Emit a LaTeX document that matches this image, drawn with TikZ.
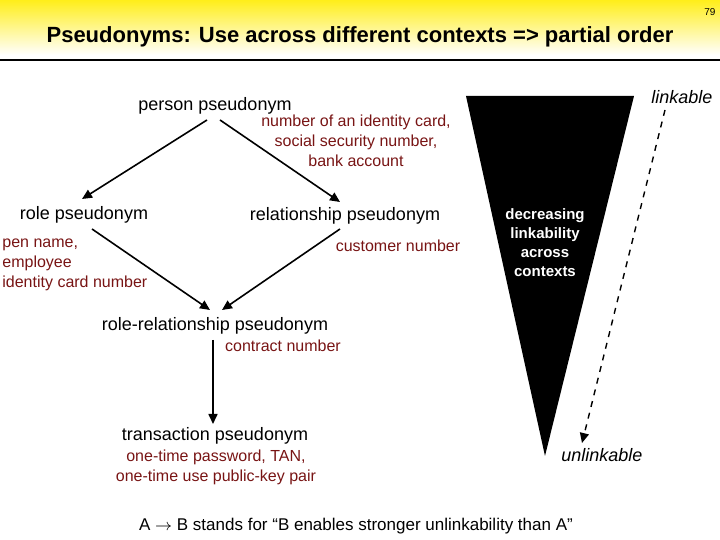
\documentclass[tikz,border=0pt]{standalone}
\usepackage{fontspec}
\setmainfont{Liberation Sans}
\usetikzlibrary{arrows.meta}
\definecolor{lab}{RGB}{120,20,20}
\begin{document}
\begin{tikzpicture}[x=0.5pt,y=-0.5pt,
  pn/.style={font=\fontsize{9}{10}\selectfont, inner sep=0pt},
  lb/.style={font=\fontsize{8}{10}\selectfont, text=lab, inner sep=0pt, align=center},
  ar/.style={-{Triangle[length=5pt,width=4.5pt]}, line width=0.8pt}]
\useasboundingbox (0,0) rectangle (720,540);
\shade[top color=yellow!85!orange!90!white, bottom color=white] (0,0) rectangle (720,55);
\draw[line width=1.2pt] (0,60) -- (720,60);
\node[font=\fontsize{5}{6}\selectfont] (pg) at (710,12) {79};
\node[font=\bfseries\fontsize{11}{13}\selectfont] (title) at (360,37) {Pseudonyms: Use across different contexts => partial order};
\node[pn] (pp) at (215,106) {person pseudonym};
\node[pn] (rp) at (84,215) {role pseudonym};
\node[pn] (relp) at (345,216) {relationship pseudonym};
\node[pn] (rrp) at (215,326) {role-relationship pseudonym};
\node[pn] (tp) at (215,436) {transaction pseudonym};
\node[lb] (l1) at (356,141) {number of an identity card,\\social security number,\\bank account};
\node[lb, align=left, anchor=west] (l2) at (2,265) {pen name,\\employee\\identity card number};
\node[lb] (l3) at (398,246) {customer number};
\node[lb] (l4) at (283,346) {contract number};
\node[lb] (l5) at (216,467) {one-time password, TAN,\\one-time use public-key pair};
\coordinate (a1) at (207,120); \coordinate (a2) at (82,199);
\coordinate (b1) at (220,120); \coordinate (b2) at (340,202);
\coordinate (c1) at (92,229); \coordinate (c2) at (210,310);
\coordinate (d1) at (340,229); \coordinate (d2) at (222,310);
\coordinate (e1) at (213,340); \coordinate (e2) at (213,424);
\draw[ar] (a1) -- (a2);
\draw[ar] (b1) -- (b2);
\draw[ar] (c1) -- (c2);
\draw[ar] (d1) -- (d2);
\draw[ar] (e1) -- (e2);
\fill (466,96) -- (634,96) -- (545,456) -- cycle;
\node[font=\bfseries\fontsize{7.5}{9.5}\selectfont, text=white, align=center] (dec) at (545,243) {decreasing\\linkability\\across\\contexts};
\node[font=\itshape\fontsize{9}{10}\selectfont] (lk) at (682,97) {linkable};
\node[font=\itshape\fontsize{9}{10}\selectfont] (ul) at (602,455) {unlinkable};
\coordinate (f1) at (665,110); \coordinate (f2) at (582,443);
\draw[ar, dashed, line width=0.7pt] (f1) -- (f2);
\node[font=\fontsize{8.5}{10}\selectfont] (foot) at (356,526) {A $\rightarrow$ B stands for “B enables stronger unlinkability than A”};
\end{tikzpicture}
\end{document}
